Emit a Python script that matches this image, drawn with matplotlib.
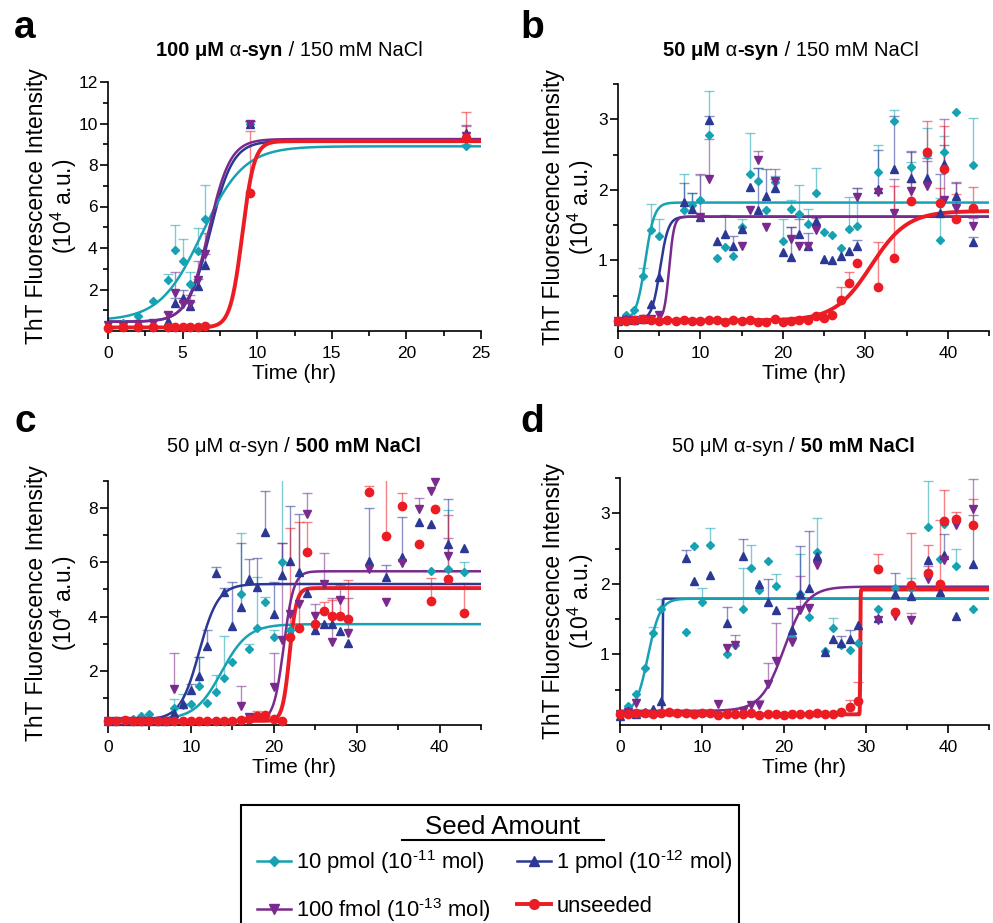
import numpy as np
import matplotlib.pyplot as plt
from matplotlib.lines import Line2D
from matplotlib.patches import Rectangle

plt.rcParams['font.family'] = ['Liberation Sans', 'DejaVu Sans']
plt.rcParams['mathtext.fontset'] = 'custom'
plt.rcParams['mathtext.rm'] = 'Liberation Sans'
plt.rcParams['mathtext.it'] = 'Liberation Sans:italic'
plt.rcParams['mathtext.bf'] = 'Liberation Sans:bold'
plt.rcParams['mathtext.default'] = 'regular'

nan = np.nan

# ---- panel a: 100 uM a-syn / 150 mM NaCl ----
a_t = [0, 1, 2, 3, 4, 4.5, 5, 5.5, 6, 6.5, 9.5, 24]
a_teal = [0.2, 0.39, 0.71, 1.44, 2.45, 3.9, 3.37, 2.27, 3.87, 5.42, 10.0, 8.9]
a_teal_hi = [nan, nan, nan, nan, 2.73, 5.13, 4.42, 2.82, 4.95, 7.03, 10.1, 9.0]
a_blue = [0.3, 0.3, 0.35, 0.3, 0.5, 1.34, 1.6, 1.21, 2.19, 3.19, 10.0, 9.55]
a_blue_hi = [nan, nan, nan, nan, nan, 1.6, 2.0, 1.4, 2.5, 3.7, 10.1, 9.95]
a_purple = [0.3, 0.3, 0.35, 0.4, 0.77, 1.82, 1.3, 1.3, 2.47, 3.72, 10.0, 9.4]
a_purple_hi = [nan, nan, nan, nan, 0.92, 2.85, 1.6, 1.75, 3.35, 4.7, 10.1, 9.9]
a_red = [0.15, 0.17, 0.17, 0.17, 0.17, 0.17, 0.17, 0.17, 0.18, 0.22, 6.65, 9.3]
a_red_hi = [nan, nan, nan, nan, nan, nan, nan, nan, nan, nan, 9.65, 10.55]
# Boltzmann fit parameters: teal, blue, purple, red
a_fit_base = [0.5, 0.45, 0.45, 0.17]
a_fit_top = [8.9, 9.15, 9.25, 9.15]
a_fit_mid = [6.3, 6.85, 6.75, 9.0]
a_fit_k = [1.4, 0.75, 0.72, 0.4]

# common sampling times for panels b-d
t_long = [0, 1, 2, 3, 4, 5, 6, 7, 8, 9, 10, 11, 12, 13, 14, 15, 16, 17, 18, 19,
          20, 21, 22, 23, 24, 25, 26, 27, 28, 29, 31.5, 33.5, 35.5, 37.5, 39, 39.5, 41, 43]

# ---- panel b: 50 uM a-syn / 150 mM NaCl ----
b_teal = [0.14, 0.23, 0.30, 0.78, 1.43, 1.34, nan, nan, 1.71, 1.79,
          1.86, 2.78, 1.03, 1.19, 1.06, 1.48, 2.22, 2.12, 1.71, 2.11,
          1.27, 1.73, 1.66, 1.52, 1.95, 1.40, 1.36, 1.18, 1.45, 1.49,
          2.26, 2.97, 2.32, 2.50, 1.29, 2.54, 3.10, 2.35]
b_teal_hi = [nan, nan, nan, 0.89, 1.80, 1.58, nan, nan, 2.23, 1.95,
             2.21, 3.40, nan, nan, nan, 1.58, 2.80, 2.31, nan, 2.19,
             1.58, 1.86, 2.07, 1.73, 2.31, nan, nan, nan, 1.90, 2.02,
             2.64, 3.13, 2.40, 2.88, 1.88, 2.76, nan, 3.02]
b_blue = [0.14, 0.17, 0.15, 0.17, 0.38, 0.77, nan, nan, 1.83, 1.73,
          1.61, 2.99, 1.28, 1.37, 1.21, 1.44, 2.04, 1.71, 1.92, 2.03,
          1.12, 1.05, 1.37, 1.21, 1.56, 1.02, 1.00, 1.06, 1.13, 1.21,
          2.01, 2.30, 2.17, 2.17, 1.67, 2.37, 1.91, 1.26]
b_blue_hi = [nan, nan, nan, nan, nan, nan, nan, nan, 2.10, 1.95,
             nan, 3.05, nan, 1.65, 1.34, nan, nan, 2.31, 2.29, 2.15,
             nan, 1.48, 1.58, 1.39, nan, nan, nan, nan, nan, 1.29,
             2.56, 3.05, 2.54, 2.45, 2.22, 2.63, 2.10, 1.33]
b_purple = [0.14, 0.15, 0.16, 0.17, 0.17, 0.23, nan, nan, nan, nan,
            1.61, 2.15, nan, nan, nan, 1.20, 1.71, 2.43, 1.47, 2.12,
            nan, 1.30, 1.21, 1.21, 1.43, nan, nan, nan, nan, 1.90,
            1.97, 1.67, 1.98, 2.05, nan, 1.86, 1.74, 1.49]
b_purple_hi = [nan, nan, nan, nan, nan, nan, nan, nan, nan, nan,
               2.23, 2.72, nan, nan, nan, nan, nan, 2.55, nan, 2.29,
               nan, 1.48, nan, nan, 1.60, nan, nan, nan, nan, 2.03,
               nan, 2.15, 2.55, 2.41, nan, 3.00, 2.11, 1.60]
b_red = [0.14, 0.14, 0.16, 0.17, 0.15, 0.14, 0.15, 0.14, 0.15, 0.14,
         0.14, 0.16, 0.15, 0.13, 0.15, 0.14, 0.15, 0.13, 0.13, 0.17,
         0.13, 0.14, 0.15, 0.16, 0.21, 0.19, 0.22, 0.44, 0.68, 0.97,
         0.63, 1.04, 1.84, 2.54, 1.82, 2.30, 1.58, 1.74]
b_red_hi = [nan, nan, nan, nan, nan, nan, nan, nan, nan, nan,
            nan, nan, nan, nan, nan, nan, nan, nan, nan, nan,
            nan, nan, nan, nan, nan, nan, nan, 0.62, 0.83, nan,
            1.26, 2.05, 2.11, 2.98, 2.03, 2.91, 1.94, 2.04]
b_fit_base = [0.15, 0.15, 0.15, 0.15]
b_fit_top = [1.82, 1.62, 1.62, 1.70]
b_fit_mid = [3.3, 5.1, 6.2, 30.7]
b_fit_k = [0.55, 0.5, 0.3, 2.2]

# ---- panel c: 50 uM a-syn / 500 mM NaCl ----
c_teal = [0.14, 0.15, 0.17, 0.23, 0.32, 0.42, nan, nan, 0.63, 0.73,
          0.79, 1.44, 0.81, 1.20, 1.74, 2.33, 4.82, 2.82, 3.58, 4.52,
          3.23, 6.02, 3.50, nan, nan, nan, nan, nan, nan, nan,
          nan, nan, nan, nan, 5.68, nan, 5.74, 5.65]
c_teal_hi = [nan, nan, nan, nan, nan, nan, nan, nan, 0.95, 1.16,
             nan, 2.51, nan, 1.86, 3.29, nan, 7.10, 2.98, 5.45, 4.73,
             3.50, 9.50, nan, nan, nan, nan, nan, nan, nan, nan,
             nan, nan, nan, nan, nan, nan, 7.93, 6.00]
c_blue = [0.14, 0.14, 0.15, 0.15, 0.14, 0.15, 0.15, 0.16, 0.45, 0.79,
          1.28, 1.80, 2.92, 5.59, 4.89, 3.66, 4.36, 5.38, 5.08, 7.13,
          4.11, 5.53, 6.06, 5.65, 4.88, 3.52, 3.71, 3.71, 3.47, 3.04,
          6.05, 5.47, 6.18, 7.48, 7.42, nan, 6.66, 6.54]
c_blue_hi = [nan, nan, nan, nan, nan, nan, nan, nan, nan, nan,
             1.50, 2.51, 3.50, 5.84, 5.04, 5.29, 6.73, 6.11, 6.15, 8.64,
             5.29, 6.70, 8.08, 7.77, nan, nan, nan, nan, nan, nan,
             8.00, 5.90, 7.69, nan, nan, nan, 8.33, nan]
c_purple = [0.14, 0.14, 0.15, 0.14, 0.15, 0.14, 0.15, 0.15, 1.31, nan,
            nan, nan, nan, nan, nan, nan, 0.70, 0.30, 0.30, nan,
            1.40, 3.13, 4.08, 4.46, 7.79, 4.02, 5.19, 3.07, 4.61, 3.41,
            5.75, 4.55, 5.96, 7.97, 8.64, 8.98, 6.25, nan]
c_purple_hi = [nan, nan, nan, nan, nan, nan, nan, nan, 2.67, nan,
               nan, nan, nan, nan, nan, nan, 1.43, nan, nan, nan,
               2.67, 6.70, nan, nan, 8.57, 4.48, 6.36, 4.67, 5.16, 4.67,
               nan, nan, nan, 8.36, nan, nan, 6.89, nan]
c_red = [0.14, 0.14, 0.17, 0.14, 0.15, 0.14, 0.15, 0.14, 0.15, 0.14,
         0.15, 0.14, 0.15, 0.14, 0.15, 0.16, 0.18, 0.22, 0.33, 0.36,
         0.23, 0.14, 3.25, 3.58, 6.38, 3.71, 4.21, 4.03, 4.03, 3.90,
         8.59, 6.97, 8.06, 6.66, 4.57, 7.96, 5.38, 4.14]
c_red_hi = [nan, nan, nan, nan, nan, nan, nan, nan, nan, nan,
            nan, nan, nan, nan, nan, nan, nan, nan, 0.50, 0.45,
            nan, nan, 7.26, 7.50, 7.48, nan, 4.55, 4.60, 4.70, 5.35,
            8.80, 9.90, 8.57, nan, 5.41, nan, 7.75, 5.25]
c_fit_base = [0.2, 0.2, 0.15, 0.15]
c_fit_top = [3.72, 5.2, 5.67, 5.05]
c_fit_mid = [13.7, 11.0, 21.2, 21.9]
c_fit_k = [1.6, 1.15, 0.6, 0.42]

# ---- panel d: 50 uM a-syn / 50 mM NaCl ----
d_teal = [0.15, 0.27, 0.44, 0.81, 1.31, 1.64, nan, nan, 1.32, 2.54,
          1.75, 2.55, nan, 1.01, 1.13, 1.64, 2.22, 1.91, 2.32, 1.97,
          nan, 1.25, 1.86, 1.53, 2.45, 1.05, 1.38, 1.13, 1.06, 1.16,
          1.64, 1.94, 1.94, 2.80, 2.35, 2.85, 2.26, 1.64]
d_teal_hi = [nan, nan, nan, nan, 1.39, 1.79, nan, nan, nan, nan,
             1.94, 2.79, nan, nan, nan, 2.22, 2.55, nan, nan, 2.14,
             nan, nan, 2.42, nan, 2.93, nan, 1.52, nan, nan, nan,
             nan, nan, 2.08, 3.46, nan, nan, 2.50, nan]
d_blue = [0.13, 0.20, 0.16, 0.18, 0.23, 0.34, nan, nan, 2.36, 2.04,
          nan, 2.12, nan, 1.45, nan, 2.39, nan, 2.00, 1.74, 1.63,
          nan, 1.35, 1.86, 1.94, 2.40, 1.03, 1.22, 1.16, 1.22, 1.41,
          1.52, 1.85, 1.83, 2.34, 1.88, 2.41, 1.54, 2.28]
d_blue_hi = [nan, nan, nan, nan, nan, nan, nan, nan, 2.48, nan,
             nan, nan, nan, 1.67, nan, 2.63, nan, nan, 2.07, nan,
             nan, 1.66, 2.54, 2.75, nan, nan, nan, 1.26, 1.35, nan,
             nan, 2.16, nan, nan, nan, 2.71, nan, 2.98]
d_purple = [0.15, 0.18, 0.31, nan, nan, nan, nan, nan, nan, nan,
            nan, nan, 0.30, 1.09, 1.13, 0.20, 0.28, 0.28, 0.58, 0.91,
            nan, 1.18, 1.63, 1.66, 2.27, nan, nan, nan, nan, nan,
            1.49, 1.54, 1.49, 2.07, nan, 2.34, 2.83, 3.06]
d_purple_hi = [nan, nan, nan, nan, nan, nan, nan, nan, nan, nan,
               nan, nan, nan, nan, 1.28, nan, nan, 0.36, 0.88, 1.45,
               nan, 1.66, 2.11, nan, nan, nan, nan, nan, nan, nan,
               nan, nan, 1.59, 2.25, nan, nan, nan, 3.48]
d_red = [0.15, 0.16, 0.17, 0.17, 0.16, 0.17, 0.18, 0.17, 0.17, 0.16,
         0.17, 0.17, 0.14, 0.15, 0.15, 0.16, 0.17, 0.14, 0.16, 0.15,
         0.14, 0.15, 0.16, 0.15, 0.17, 0.16, 0.16, 0.18, 0.25, 0.34,
         2.21, 1.60, 1.99, 2.15, 2.00, 2.89, 2.92, 2.83]
d_red_hi = [nan, nan, nan, nan, nan, nan, nan, nan, nan, nan,
            nan, nan, nan, nan, nan, nan, nan, nan, nan, nan,
            nan, nan, nan, nan, nan, nan, nan, nan, 0.36, 0.61,
            2.43, nan, 2.72, 2.55, 2.90, 3.33, 3.02, 3.20]
d_fit_base = [0.15, 0.18, 0.2, 0.15]
d_fit_top = [1.79, 1.79, 1.96, 1.92]
d_fit_mid = [3.4, 5.2, 20.0, 29.3]
d_fit_k = [0.75, 0.02, 1.4, 0.02]

labels = [r'10 pmol (10$^{\text{-11}}$ mol)', r'1 pmol (10$^{\text{-12}}$ mol)',
          r'100 fmol (10$^{\text{-13}}$ mol)', 'unseeded']

colors = ['#17a2b4', '#2b3894', '#7a2a8c', '#ec1c24']
markers = ['D', '^', 'v', 'o']
msizes = [4, 5.5, 5.5, 6]
lws = [1.8, 1.8, 1.8, 2.8]


def boltzmann(t, base, top, mid, k):
    return top + (base - top) / (1 + np.exp((t - mid) / k))


def draw_panel(ax, t, ys, his, fit, xmax):
    t = np.array(t, dtype=float)
    tt = np.linspace(0, xmax, 3000)
    for i in range(4):
        y = np.array(ys[i], dtype=float)
        hi = np.array(his[i], dtype=float)
        ok = ~np.isnan(hi) & ~np.isnan(y)
        ax.vlines(t[ok], y[ok], hi[ok], color=colors[i], alpha=0.55, lw=1, zorder=1)
        ax.plot(t[ok], hi[ok], ls='none', marker='_', ms=7, mew=1,
                color=colors[i], alpha=0.55, zorder=1)
    for i in range(4):
        ax.plot(t, ys[i], ls='none', marker=markers[i], ms=msizes[i],
                color=colors[i], mec=colors[i], zorder=3, clip_on=False)
    for i in [1, 0, 2, 3]:
        ax.plot(tt, boltzmann(tt, fit[0][i], fit[1][i], fit[2][i], fit[3][i]),
                color=colors[i], lw=lws[i], zorder=2.5)


W, H = 993, 923
fig = plt.figure(figsize=(W / 100, H / 100), dpi=100)


def px_axes(left, top, right, bottom):
    return fig.add_axes([left / W, 1 - bottom / H, (right - left) / W, (bottom - top) / H])


ax_a = px_axes(108, 82, 481, 331)
ax_b = px_axes(618, 84, 989, 331)
ax_c = px_axes(108, 481, 481, 725)
ax_d = px_axes(620, 478, 989, 725)

draw_panel(ax_a, a_t, [a_teal, a_blue, a_purple, a_red],
           [a_teal_hi, a_blue_hi, a_purple_hi, a_red_hi],
           [a_fit_base, a_fit_top, a_fit_mid, a_fit_k], 25)
draw_panel(ax_b, t_long, [b_teal, b_blue, b_purple, b_red],
           [b_teal_hi, b_blue_hi, b_purple_hi, b_red_hi],
           [b_fit_base, b_fit_top, b_fit_mid, b_fit_k], 45)
draw_panel(ax_c, t_long, [c_teal, c_blue, c_purple, c_red],
           [c_teal_hi, c_blue_hi, c_purple_hi, c_red_hi],
           [c_fit_base, c_fit_top, c_fit_mid, c_fit_k], 45)
draw_panel(ax_d, t_long, [d_teal, d_blue, d_purple, d_red],
           [d_teal_hi, d_blue_hi, d_purple_hi, d_red_hi],
           [d_fit_base, d_fit_top, d_fit_mid, d_fit_k], 45)

ax_a.set_xlim(0, 25)
ax_a.set_xticks([0, 5, 10, 15, 20, 25])
ax_a.set_xticks(np.arange(2.5, 25, 5), minor=True)
ax_a.set_ylim(0, 12)
ax_a.set_yticks([2, 4, 6, 8, 10, 12])
ax_a.set_yticks([1, 3, 5, 7, 9, 11], minor=True)

for ax in [ax_b, ax_c, ax_d]:
    ax.set_xlim(0, 45)
    ax.set_xticks([0, 10, 20, 30, 40])
    ax.set_xticks([5, 15, 25, 35, 45], minor=True)
for ax in [ax_b, ax_d]:
    ax.set_ylim(0, 3.5)
    ax.set_yticks([1, 2, 3])
    ax.set_yticks([0.5, 1.5, 2.5, 3.5], minor=True)
ax_c.set_ylim(0, 9)
ax_c.set_yticks([2, 4, 6, 8])
ax_c.set_yticks([1, 3, 5, 7, 9], minor=True)

label_x = {ax_a: -0.078, ax_b: -0.059, ax_c: -0.078, ax_d: -0.066}
for ax in [ax_a, ax_b, ax_c, ax_d]:
    ax.spines[['top', 'right']].set_visible(False)
    ax.spines[['left', 'bottom']].set_linewidth(1.2)
    ax.tick_params(which='both', direction='out', width=1.2)
    ax.tick_params(which='major', length=6, labelsize=12.5)
    ax.tick_params(axis='y', which='major', pad=1.5)
    ax.tick_params(axis='x', which='major', pad=5)
    ax.tick_params(which='minor', length=3.5)
    ax.set_xlabel('Time (hr)', fontsize=15, labelpad=2)
    ax.set_ylabel('ThT Fluorescence Intensity\n(10$^4$ a.u.)', fontsize=16.5, linespacing=1.03)
    ax.yaxis.set_label_coords(label_x[ax], 0.5)

# panel letters
for letter, x, y in [('a', 14, 38), ('b', 520, 38), ('c', 14, 432), ('d', 520, 432)]:
    fig.text(x / W, 1 - y / H, letter, fontsize=28, fontweight='bold', va='baseline')


def mixed_title(ax, x, y, parts, size=14.5):
    prev = fig.text(x / W, 1 - y / H, parts[0][0], fontsize=size,
                    fontweight=parts[0][1], va='baseline')
    for s, w in parts[1:]:
        prev = ax.annotate(s, xy=(1, 0), xycoords=prev, va='bottom', ha='left',
                           fontsize=size, fontweight=w, annotation_clip=False)


mixed_title(ax_a, 156, 56, [('100 μM', 'bold'), (' α', 'normal'), ('-syn', 'bold'),
                            (' / 150 mM NaCl', 'normal')])
mixed_title(ax_b, 663, 56, [('50 μM', 'bold'), (' α', 'normal'), ('-syn', 'bold'),
                            (' / 150 mM NaCl', 'normal')])
mixed_title(ax_c, 167, 452, [('50 μM α-syn /', 'normal'), (' 500 mM NaCl', 'bold')])
mixed_title(ax_d, 672, 452, [('50 μM α-syn /', 'normal'), (' 50 mM NaCl', 'bold')])

# legend box, title and underline
fig.add_artist(Rectangle((241 / W, 1 - 960 / H), (739 - 241) / W, 155 / H,
                         transform=fig.transFigure, facecolor='white',
                         edgecolor='black', lw=1.5))
fig.text(503 / W, 1 - 834 / H, 'Seed Amount', fontsize=18.6, ha='center', va='baseline')
fig.add_artist(Line2D([402 / W, 604 / W], [1 - 840 / H, 1 - 840 / H],
                      transform=fig.transFigure, color='black', lw=1.5))

# legend entries (column-major fill: teal, purple | blue, red)
handles = [Line2D([], [], color=colors[i], marker=markers[i], ms=msizes[i] + 1, lw=lws[i])
           for i in range(4)]
order = [0, 2, 1, 3]
leg = fig.legend([handles[i] for i in order], [labels[i] for i in order], ncol=2,
                 loc='upper left', bbox_to_anchor=(257 / W, 1 - 848 / H),
                 fontsize=15.8, frameon=False, borderpad=0, borderaxespad=0,
                 handlelength=1.55, handletextpad=0.25, columnspacing=1.15,
                 labelspacing=0.9)

fig.savefig('out.png', dpi=100)
